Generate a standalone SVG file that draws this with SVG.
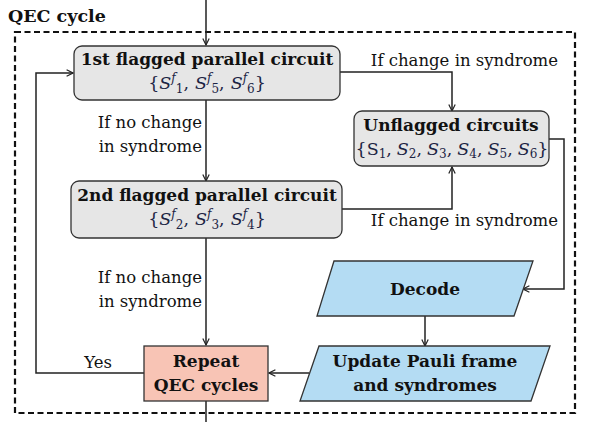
<svg xmlns="http://www.w3.org/2000/svg" width="602" height="422" viewBox="0 0 602 422">
<defs>
<marker id="ah" viewBox="0 0 10 10" refX="9" refY="5" markerWidth="8" markerHeight="8" markerUnits="userSpaceOnUse" orient="auto">
<path d="M1,1 L9,5 L1,9" fill="none" stroke="#222" stroke-width="1.5"/>
</marker>
<style>
.t{font-family:"DejaVu Serif","Liberation Serif",serif;fill:#111;}
.b{font-weight:bold;font-size:17px;}
.r{font-size:16.5px;}
.m{font-size:17.5px;fill:#1c2444;}
.i{font-style:italic;}
.s{font-size:12px;}
.rnd{fill:#e6e6e6;stroke:#333;stroke-width:1.3;}
.par{fill:#b4dcf3;stroke:#333;stroke-width:1.3;}
.c{fill:none;stroke:#222;stroke-width:1.5;}
.ca{fill:none;stroke:#222;stroke-width:1.5;marker-end:url(#ah);}
</style>
</defs>
<rect width="602" height="422" fill="#fff"/>
<g id="qec-frame">
<rect x="15" y="32" width="560" height="381" fill="none" stroke="#111" stroke-width="2.2" stroke-dasharray="6,3.5"/>
<text class="t" x="8" y="22" font-weight="bold" font-size="17.5">QEC cycle</text>
</g>
<g id="connectors">
<path class="ca" d="M206,0 V45"/>
<path class="ca" d="M206,100 V181"/>
<path class="ca" d="M206,238 V345"/>
<path class="c" d="M206,401 V422"/>
<path class="ca" d="M340,72 H452 V111"/>
<path class="ca" d="M342,209 H452 V167"/>
<path class="ca" d="M549,139 H564 V289 H523"/>
<path class="ca" d="M425,316 V346"/>
<path class="ca" d="M309,373 H269"/>
<path class="ca" d="M144,373 H36 V73 H73"/>
<text class="t r" x="202" y="128" text-anchor="end">If no change</text>
<text class="t r" x="202" y="152" text-anchor="end">in syndrome</text>
<text class="t r" x="202" y="283" text-anchor="end">If no change</text>
<text class="t r" x="202" y="307" text-anchor="end">in syndrome</text>
<text class="t r" x="558" y="66" text-anchor="end">If change in syndrome</text>
<text class="t r" x="558" y="226" text-anchor="end">If change in syndrome</text>
<text class="t r" x="112" y="368" text-anchor="end">Yes</text>
</g>
<g id="flagged1">
<rect class="rnd" x="74" y="46" width="266" height="54" rx="8"/>
<text class="t b" x="207" y="65" text-anchor="middle">1st flagged parallel circuit</text>
<text class="t m" x="207" y="89" text-anchor="middle">{<tspan class="i">S</tspan><tspan class="s i" dy="-7">f</tspan><tspan class="s" dy="11">1</tspan><tspan dy="-4">,</tspan><tspan class="i" dx="6">S</tspan><tspan class="s i" dy="-7">f</tspan><tspan class="s" dy="11">5</tspan><tspan dy="-4">,</tspan><tspan class="i" dx="6">S</tspan><tspan class="s i" dy="-7">f</tspan><tspan class="s" dy="11">6</tspan><tspan dy="-4">}</tspan></text>
</g>
<g id="flagged2">
<rect class="rnd" x="71" y="181" width="271" height="57" rx="8"/>
<text class="t b" x="207" y="201" text-anchor="middle">2nd flagged parallel circuit</text>
<text class="t m" x="207" y="225" text-anchor="middle">{<tspan class="i">S</tspan><tspan class="s i" dy="-7">f</tspan><tspan class="s" dy="11">2</tspan><tspan dy="-4">,</tspan><tspan class="i" dx="6">S</tspan><tspan class="s i" dy="-7">f</tspan><tspan class="s" dy="11">3</tspan><tspan dy="-4">,</tspan><tspan class="i" dx="6">S</tspan><tspan class="s i" dy="-7">f</tspan><tspan class="s" dy="11">4</tspan><tspan dy="-4">}</tspan></text>
</g>
<g id="unflagged">
<rect class="rnd" x="354" y="111" width="195" height="55" rx="8"/>
<text class="t b" x="451" y="131" text-anchor="middle">Unflagged circuits</text>
<text class="t m" x="452" y="155" text-anchor="middle">{S<tspan class="s" dy="3">1</tspan><tspan dy="-3">,</tspan><tspan class="i" dx="5">S</tspan><tspan class="s" dy="3">2</tspan><tspan dy="-3">,</tspan><tspan class="i" dx="5">S</tspan><tspan class="s" dy="3">3</tspan><tspan dy="-3">,</tspan><tspan class="i" dx="5">S</tspan><tspan class="s" dy="3">4</tspan><tspan dy="-3">,</tspan><tspan class="i" dx="5">S</tspan><tspan class="s" dy="3">5</tspan><tspan dy="-3">,</tspan><tspan class="i" dx="5">S</tspan><tspan class="s" dy="3">6</tspan><tspan dy="-3">}</tspan></text>
</g>
<g id="decode">
<polygon class="par" points="334,261 533,261 514,316 317,316"/>
<text class="t b" x="425" y="295" text-anchor="middle">Decode</text>
</g>
<g id="update">
<polygon class="par" points="319,346 550,346 531,401 300,401"/>
<text class="t b" x="425" y="367" text-anchor="middle">Update Pauli frame</text>
<text class="t b" x="425" y="391" text-anchor="middle">and syndromes</text>
</g>
<g id="repeat">
<rect x="144" y="346" width="124" height="55" fill="#f8c4b5" stroke="#333" stroke-width="1.3"/>
<text class="t b" x="206" y="367" text-anchor="middle">Repeat</text>
<text class="t b" x="206" y="391" text-anchor="middle">QEC cycles</text>
</g>
</svg>
